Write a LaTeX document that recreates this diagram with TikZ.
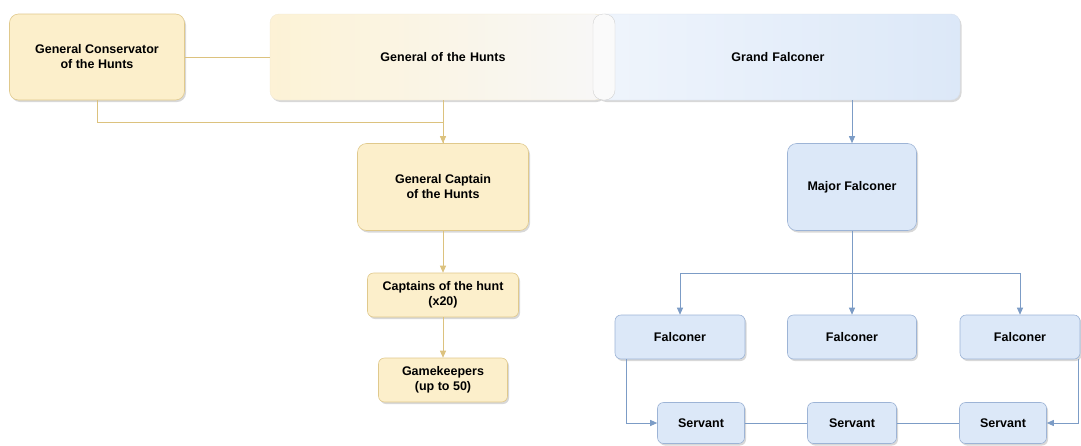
\documentclass[tikz,border=0pt]{standalone}
\usepackage{fontspec}
\setmainfont{Liberation Sans}
\usetikzlibrary{arrows.meta,shadows,calc}
\definecolor{yfill}{HTML}{FCEFCB}
\definecolor{ydraw}{HTML}{E0C98C}
\definecolor{yline}{HTML}{DCC27E}
\definecolor{bfill}{HTML}{DCE8F8}
\definecolor{bdraw}{HTML}{9DB4D6}
\definecolor{bline}{HTML}{7C9CC6}
\tikzset{
  x=1pt, y=-1pt,
  base/.style={rounded corners=9pt, align=center, inner sep=2pt,
    font=\fontsize{12.5}{15}\selectfont\bfseries,
    drop shadow={opacity=0.3, shadow xshift=1.5pt, shadow yshift=-2pt}},
  ybox/.style={base, fill=yfill, draw=ydraw, line width=0.6pt},
  bbox/.style={base, fill=bfill, draw=bdraw, line width=0.6pt},
  yarr/.style={draw=yline, line width=0.9pt, -{Triangle[length=7pt,width=6pt]}},
  yln/.style={draw=yline, line width=0.9pt},
  barr/.style={draw=bline, line width=0.9pt, -{Triangle[length=7pt,width=6pt]}},
  bln/.style={draw=bline, line width=0.9pt},
}
\begin{document}
\begin{tikzpicture}
\fill[white] (0,0) rectangle (1081,445);
\useasboundingbox (0,0) rectangle (1081,445);

% top row
\node[ybox, minimum width=175pt, minimum height=86pt] (cons) at (97,57) {General Conservator\\of the Hunts};
\node[base, draw=ydraw!40, line width=0.4pt, left color=yfill!80!white, right color=gray!6,
      minimum width=334pt, minimum height=86pt, text width=320pt] (goh) at (437,57) {\hspace*{12pt}General of the Hunts};
\node[base, draw=bdraw!40, line width=0.4pt, left color=bfill!45!white, right color=bfill,
      minimum width=364pt, minimum height=86pt, text width=350pt] (gf) at (778,57) {Grand Falconer};
\node[draw=gray!35, fill=gray!4, rounded corners=10pt, line width=0.4pt,
      minimum width=22pt, minimum height=86pt, inner sep=0pt] (pill) at (604,57) {};

% left column
\node[ybox, minimum width=171pt, minimum height=87pt] (gcap) at (443,187) {General Captain\\of the Hunts};
\node[ybox, rounded corners=6pt, minimum width=151pt, minimum height=44pt] (capt) at (443,295) {Captains of the hunt\\(x20)};
\node[ybox, rounded corners=6pt, minimum width=129pt, minimum height=44pt] (game) at (443,380) {Gamekeepers\\(up to 50)};

% right column
\node[bbox, minimum width=129pt, minimum height=87pt] (major) at (852,187) {Major Falconer};
\node[bbox, rounded corners=6pt, minimum width=130pt, minimum height=44pt] (fal1) at (680,337) {Falconer};
\node[bbox, rounded corners=6pt, minimum width=129pt, minimum height=44pt] (fal2) at (852,337) {Falconer};
\node[bbox, rounded corners=6pt, minimum width=120pt, minimum height=44pt] (fal3) at (1020,337) {Falconer};
\node[bbox, rounded corners=6pt, minimum width=87pt, minimum height=41pt] (serv1) at (701,423) {Servant};
\node[bbox, rounded corners=6pt, minimum width=89pt, minimum height=41pt] (serv2) at (852,423) {Servant};
\node[bbox, rounded corners=6pt, minimum width=87pt, minimum height=41pt] (serv3) at (1003,423) {Servant};

% yellow connectors
\draw[yln] (cons.east) -- (goh.west);
\draw[yarr] (cons.south) -- ++(0,22) -| (gcap.north);
\draw[yln] (goh.south -| gcap.north) -- (gcap.north);
\draw[yarr] (gcap.south) -- (capt.north);
\draw[yarr] (capt.south) -- (game.north);

% blue connectors
\coordinate (bus) at (852,273);
\draw[barr] (gf.south -| major.north) -- (major.north);
\draw[barr] (major.south) -- (fal2.north);
\draw[barr] (bus) -| (fal1.north);
\draw[barr] (bus) -| (fal3.north);
\draw[barr] ([xshift=12pt]fal1.south west) |- (serv1.west);
\draw[barr] ([xshift=-2pt]fal3.south east) |- (serv3.east);
\draw[bln] (serv1.east) -- (serv2.west);
\draw[bln] (serv2.east) -- (serv3.west);
\end{tikzpicture}
\end{document}
